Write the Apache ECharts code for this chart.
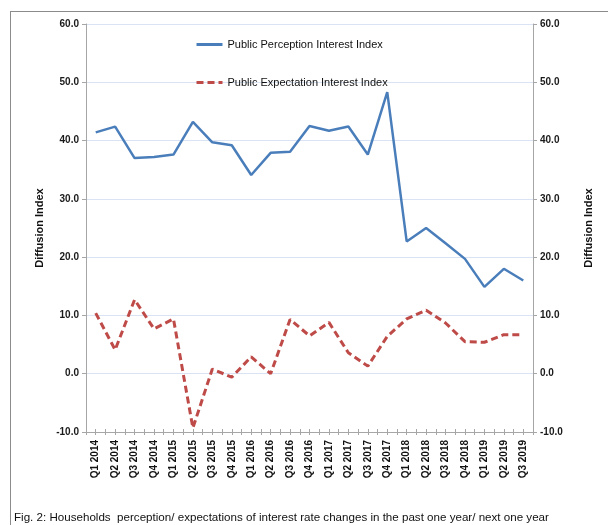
<!DOCTYPE html>
<html>
<head>
<meta charset="utf-8">
<script src="https://cdn.jsdelivr.net/npm/echarts@6/dist/echarts.min.js"></script>
<style>
  html, body { margin: 0; padding: 0; background: #fff; }
  #chart { width: 608px; height: 525px; }
</style>
</head>
<body>
<div id="chart"></div>
<script>
var quarters = ["Q1 2014", "Q2 2014", "Q3 2014", "Q4 2014", "Q1 2015", "Q2 2015", "Q3 2015", "Q4 2015",
  "Q1 2016", "Q2 2016", "Q3 2016", "Q4 2016", "Q1 2017", "Q2 2017", "Q3 2017", "Q4 2017",
  "Q1 2018", "Q2 2018", "Q3 2018", "Q4 2018", "Q1 2019", "Q2 2019", "Q3 2019"];
var perception = [41.4, 42.4, 37.0, 37.2, 37.6, 43.2, 39.7, 39.2, 34.1, 37.9, 38.1, 42.5,
  41.7, 42.4, 37.6, 48.3, 22.7, 25.0, 22.4, 19.7, 14.9, 18.0, 16.0];
var expectation = [10.4, 4.1, 12.7, 7.7, 9.4, -9.3, 0.8, -0.6, 2.9, 0.0, 9.3, 6.5,
  8.8, 3.6, 1.3, 6.4, 9.4, 10.9, 8.7, 5.5, 5.4, 6.7, 6.7];
var yTicks = { min: -10, max: 60, step: 10 };
var caption = "Fig. 2: Households  perception/ expectations of interest rate changes in the past one year/ next one year";

// half-band ticks on the x axis
var halfTicks = [];
quarters.forEach(function (q) { halfTicks.push(""); halfTicks.push(""); });

var myChart = echarts.init(document.getElementById("chart"));
var font = "Liberation Sans";
var valueAxis = function (pos) {
  return {
    type: "value",
    position: pos,
    min: yTicks.min,
    max: yTicks.max,
    interval: yTicks.step,
    name: "Diffusion Index",
    nameLocation: "middle",
    nameRotate: 90,
    nameGap: pos === "left" ? 33 : 50,
    nameTextStyle: { color: "#111", fontFamily: font, fontSize: 11, fontWeight: "bold" },
    axisLine: { show: true, lineStyle: { color: "#a6a6a6", width: 1 } },
    axisTick: { show: true, length: 4, lineStyle: { color: "#a6a6a6" } },
    axisLabel: {
      color: "#1a1a1a", fontFamily: font, fontSize: 10, fontWeight: "bold", margin: 7,
      formatter: function (v) { return v.toFixed(1); }
    },
    splitLine: { show: pos === "left", lineStyle: { color: "#d9e3f3", width: 1 } }
  };
};
var tickAxis = function (inside) {
  return {
    type: "category",
    position: "bottom",
    data: halfTicks,
    boundaryGap: true,
    axisLine: { show: false, onZero: false },
    axisLabel: { show: false },
    axisTick: { show: true, inside: inside, length: 3, interval: 0, lineStyle: { color: "#a6a6a6" } }
  };
};
var option = {
  animation: false,
  backgroundColor: "#fff",
  grid: { left: 86, right: 75, top: 24, bottom: 93 },
  legend: {
    orient: "vertical",
    left: 190,
    top: 34,
    itemGap: 27,
    itemWidth: 26,
    itemHeight: 12,
    itemStyle: { opacity: 0 },
    lineStyle: { width: 3 },
    textStyle: { color: "#111", fontFamily: font, fontSize: 11 },
    data: ["Public Perception Interest Index", "Public Expectation Interest Index"]
  },
  xAxis: [
    {
      type: "category",
      data: quarters,
      boundaryGap: true,
      axisLine: { show: true, onZero: false, lineStyle: { color: "#a6a6a6" } },
      axisTick: { show: false },
      axisLabel: {
        interval: 0, rotate: 90, color: "#111", fontFamily: font,
        fontSize: 10, fontWeight: "bold", margin: 8
      },
      splitLine: { show: false }
    },
    tickAxis(false),
    tickAxis(true)
  ],
  yAxis: [valueAxis("left"), valueAxis("right")],
  series: [
    {
      name: "Public Perception Interest Index",
      type: "line",
      data: perception,
      symbol: "none",
      lineStyle: { color: "#4a7ebb", width: 2.5 },
      itemStyle: { color: "#4a7ebb" }
    },
    {
      name: "Public Expectation Interest Index",
      type: "line",
      data: expectation,
      symbol: "none",
      lineStyle: { color: "#be4b48", width: 3, type: [7, 4] },
      itemStyle: { color: "#be4b48" }
    }
  ],
  graphic: [
    { type: "line", shape: { x1: 10, y1: 11.5, x2: 608, y2: 11.5 }, style: { stroke: "#8c8c8c", lineWidth: 1 } },
    { type: "line", shape: { x1: 10.5, y1: 11, x2: 10.5, y2: 525 }, style: { stroke: "#8c8c8c", lineWidth: 1 } },
    {
      type: "text", left: 14, top: 512,
      style: { text: caption, fill: "#111", font: "11.6px " + font }
    }
  ]
};
myChart.setOption(option);
</script>
</body>
</html>
